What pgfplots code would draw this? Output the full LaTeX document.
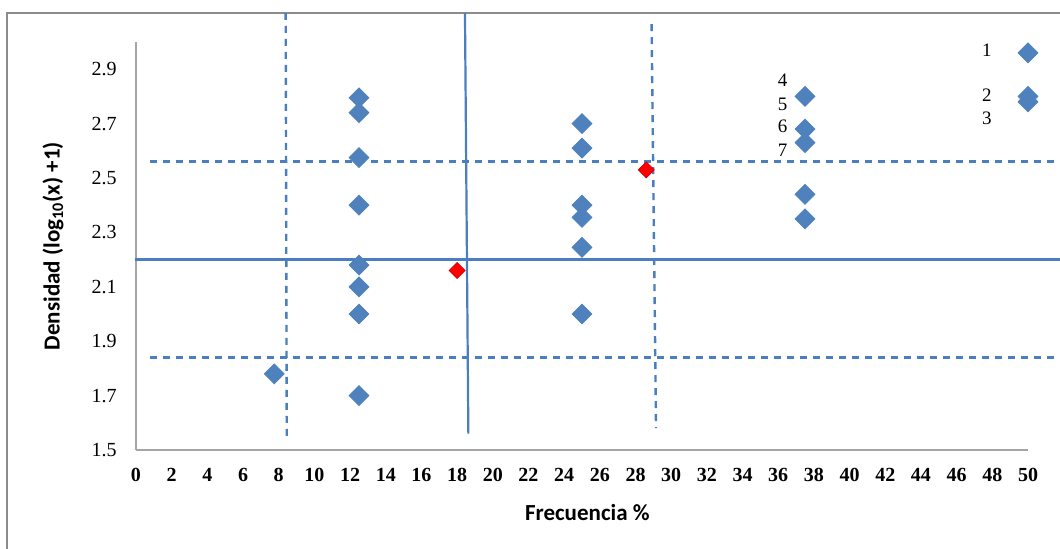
\documentclass[border=0pt]{standalone}
\usepackage{pgfplots}
\pgfplotsset{compat=1.18}
\usepackage{fontspec}
\setmainfont{Liberation Serif}
\newfontfamily\carlito{Carlito}
\definecolor{xblue}{RGB}{79,129,189}
\definecolor{lblue}{RGB}{74,126,190}
\definecolor{framegray}{RGB}{140,140,140}
\definecolor{axgray}{RGB}{165,165,165}
\begin{document}
\begin{tikzpicture}
\useasboundingbox (-68pt,-49.5pt) rectangle (462pt,225pt);
\begin{scope}
\clip (-68pt,-49.5pt) rectangle (462pt,225pt);
\draw[framegray, line width=0.9pt] (-64.5pt,-70pt) -- (-64.5pt,218.5pt) -- (480pt,218.5pt);
\end{scope}
\begin{axis}[
  at={(0,0)}, anchor=south west,
  scale only axis, width=446pt, height=204pt,
  xmin=0, xmax=50, ymin=1.5, ymax=3.0,
  clip=false,
  axis x line=bottom, axis y line=left,
  axis line style={draw=axgray, line width=0.6pt, -},
  major tick length=0pt,
  xtick={0,2,...,50},
  ytick={1.5,1.7,1.9,2.1,2.3,2.5,2.7,2.9},
  /pgf/number format/assume math mode=true,
  xticklabel style={font=\fontsize{10}{12}\selectfont\bfseries, inner sep=0pt, anchor=north, yshift=-9pt},
  yticklabel style={font=\fontsize{10}{12}\selectfont, inner sep=0pt, anchor=east, xshift=-9.5pt,
    /pgf/number format/.cd, fixed, fixed zerofill, precision=1},
  xlabel={Frecuencia \%},
  ylabel={Densidad (log\textsubscript{10}(x) +1)},
  xlabel style={font=\carlito\bfseries\fontsize{11.5}{13}\selectfont, at={(axis description cs:0.506,-0.154)}, anchor=center},
  ylabel style={font=\carlito\bfseries\fontsize{11.5}{13}\selectfont, at={(axis description cs:-0.093,0.5)}, anchor=center, rotate=0},
]
% reference lines
\addplot[lblue, line width=1.1pt] coordinates {(18.44,3.107) (18.63,1.56)};
\addplot[lblue, line width=1.1pt] coordinates {(-0.07,2.20) (52,2.20)};
\addplot[lblue, line width=1.2pt, dash pattern=on 3.5pt off 3pt] coordinates {(8.39,3.107) (8.45,1.55)};
\addplot[lblue, line width=1.2pt, dash pattern=on 3.5pt off 3pt] coordinates {(28.9,3.066) (29.15,1.58)};
\addplot[lblue, line width=1.2pt, dash pattern=on 3.5pt off 3pt] coordinates {(0.78,2.56) (52,2.56)};
\addplot[lblue, line width=1.2pt, dash pattern=on 3.5pt off 3pt] coordinates {(0.78,1.84) (52,1.84)};
% data points
\addplot[only marks, mark=square*, mark size=3.5pt, mark options={rotate=45, fill=xblue, draw=xblue}] coordinates {
 (12.5,2.795) (12.5,2.74) (12.5,2.575) (12.5,2.40) (12.5,2.18) (12.5,2.10) (12.5,2.00) (12.5,1.70)
 (7.75,1.78)
 (25,2.70) (25,2.61) (25,2.40) (25,2.355) (25,2.245) (25,2.00)
 (37.5,2.80) (37.5,2.68) (37.5,2.63) (37.5,2.44) (37.5,2.35)
 (50,2.96) (50,2.80) (50,2.78)
};
\addplot[only marks, mark=square*, mark size=2.8pt, mark options={rotate=45, fill=red, draw=red!85!black}] coordinates {
 (18.0,2.16) (28.6,2.53)
};
\node[font=\fontsize{9.5}{11}\selectfont] at (axis cs:47.7,2.968) {1};
\node[font=\fontsize{9.5}{11}\selectfont] at (axis cs:47.7,2.805) {2};
\node[font=\fontsize{9.5}{11}\selectfont] at (axis cs:47.7,2.72) {3};
\node[font=\fontsize{9.5}{11}\selectfont] at (axis cs:36.25,2.86) {4};
\node[font=\fontsize{9.5}{11}\selectfont] at (axis cs:36.25,2.772) {5};
\node[font=\fontsize{9.5}{11}\selectfont] at (axis cs:36.25,2.689) {6};
\node[font=\fontsize{9.5}{11}\selectfont] at (axis cs:36.25,2.603) {7};
\end{axis}
\end{tikzpicture}
\end{document}
